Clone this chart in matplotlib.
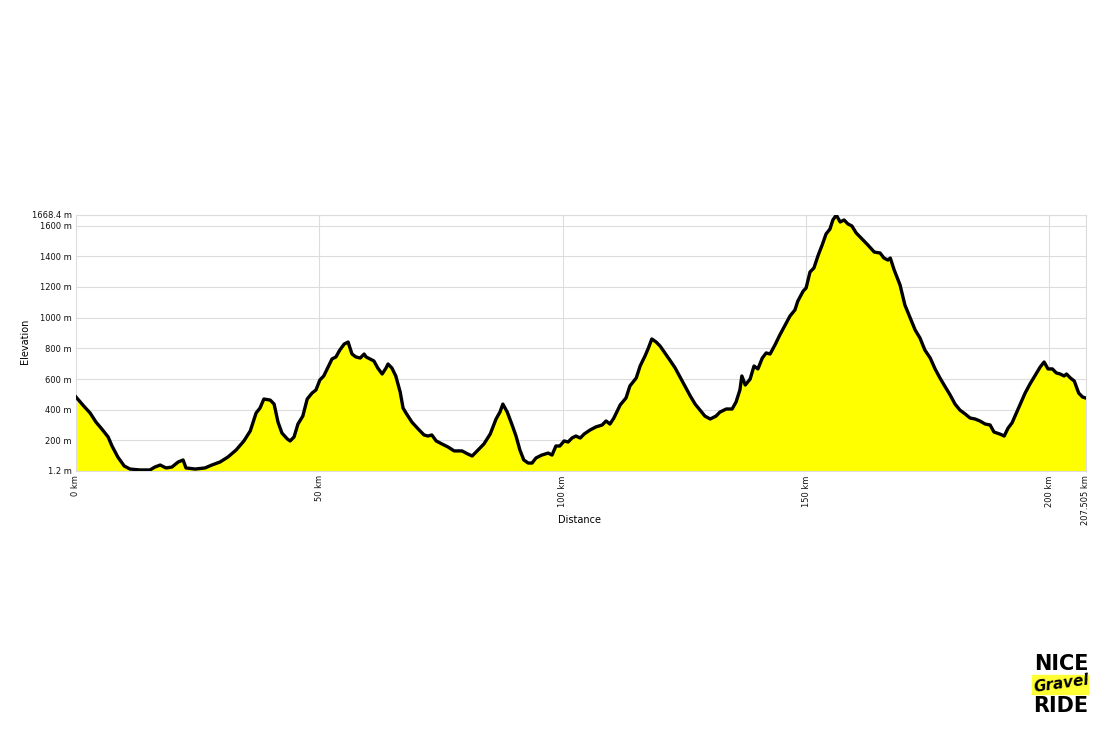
import matplotlib.pyplot as plt

# elevation profile (km, m)
distance_km = [0.0, 1.6, 2.9, 4.1, 5.3, 6.6, 7.4, 8.6, 9.9, 11.1, 13.1, 15.2, 16.2, 17.3, 18.5,
               19.7, 21.0, 22.0, 22.6, 24.5, 26.5, 27.9, 29.6, 31.2, 32.9, 34.5, 35.8, 37.0,
               37.8, 38.6, 39.9, 40.7, 41.5, 42.3, 43.4, 44.0, 44.8, 45.6, 46.6, 47.5, 48.5,
               49.3, 50.1, 50.9, 51.8, 52.6, 53.4, 54.2, 55.1, 55.9, 56.7, 57.5, 58.4, 59.2,
               59.6, 60.4, 61.2, 62.0, 62.9, 63.7, 64.1, 64.9, 65.7, 66.6, 67.2, 67.8, 69.0,
               70.3, 71.5, 72.3, 73.1, 74.0, 75.2, 76.4, 77.7, 79.3, 80.5, 81.4, 82.6, 83.8,
               85.1, 86.3, 87.1, 87.7, 88.6, 89.6, 90.4, 91.2, 92.0, 92.9, 93.7, 94.5, 95.7,
               97.0, 97.8, 98.6, 99.4, 100.3, 101.1, 101.9, 102.7, 103.6, 104.4, 105.6, 106.8,
               108.1, 108.9, 109.7, 110.5, 111.8, 113.0, 113.8, 115.1, 115.9, 116.9, 117.6,
               118.3, 119.2, 120.0, 121.0, 122.0, 123.1, 124.1, 125.1, 126.2, 127.2, 128.2,
               129.2, 130.3, 131.5, 132.3, 133.6, 134.8, 135.6, 136.4, 136.8, 137.5, 138.5,
               139.3, 140.1, 141.0, 141.8, 142.6, 143.6, 144.6, 145.7, 146.7, 147.7, 148.3,
               149.4, 150.0, 150.8, 151.6, 152.5, 153.3, 154.1, 154.9, 155.5, 156.2, 157.0,
               157.8, 158.6, 159.4, 160.3, 161.1, 161.9, 162.7, 164.0, 165.2, 166.0, 166.8,
               167.3, 168.1, 169.3, 170.3, 171.4, 172.4, 173.4, 174.4, 175.5, 176.5, 177.5,
               178.6, 179.6, 180.6, 181.6, 182.7, 183.7, 184.7, 185.7, 186.8, 187.8, 188.6,
               189.8, 190.7, 191.5, 192.3, 193.1, 194.0, 195.0, 196.0, 197.1, 198.1, 198.9,
               199.7, 200.6, 201.4, 202.2, 203.0, 203.5, 204.3, 205.1, 206.0, 206.8, 207.505]
elevation_m = [483, 424, 379, 320, 275, 223, 164, 92, 34, 14, 8, 8, 27, 40, 21,
               27, 60, 73, 21, 14, 21, 40, 60, 92, 138, 197, 262, 379,
               411, 470, 463, 437, 320, 249, 210, 197, 223, 307, 359, 470, 509,
               529, 594, 620, 679, 731, 744, 789, 828, 841, 763, 744, 737, 763,
               744, 731, 718, 672, 633, 672, 698, 672, 620, 516, 411, 379, 320,
               275, 236, 229, 236, 197, 177, 158, 132, 132, 112, 99, 138, 177,
               242, 340, 385, 437, 385, 301, 229, 138, 73, 53, 53, 86, 105,
               118, 105, 164, 164, 197, 190, 216, 229, 216, 242, 268, 288,
               301, 327, 307, 346, 431, 477, 555, 607, 685, 750, 802,
               861, 841, 815, 770, 724, 672, 613, 555, 490, 437, 398,
               359, 340, 359, 385, 405, 405, 450, 529, 620, 561, 600,
               685, 666, 737, 770, 763, 822, 887, 952, 1011, 1050, 1108,
               1173, 1193, 1297, 1323, 1408, 1473, 1545, 1577, 1636, 1668, 1623,
               1636, 1610, 1597, 1551, 1525, 1499, 1473, 1427, 1421, 1388, 1375,
               1388, 1310, 1213, 1082, 998, 920, 867, 789, 737, 666, 607,
               548, 496, 437, 398, 372, 346, 340, 327, 307, 301, 255,
               242, 229, 281, 314, 372, 437, 509, 568, 626, 679, 711,
               666, 666, 640, 633, 620, 633, 607, 587, 509, 483, 476]

y_ticks = [1.2, 200, 400, 600, 800, 1000, 1200, 1400, 1600, 1668.4]
y_labels = ["1.2 m", "200 m", "400 m", "600 m", "800 m", "1000 m", "1200 m", "1400 m", "1600 m", "1668.4 m"]
x_ticks = [0, 50, 100, 150, 200, 207.505]
x_labels = ["0 km", "50 km", "100 km", "150 km", "200 km", "207.505 km"]

fig = plt.figure(figsize=(11.16, 7.37), dpi=100)
ax = fig.add_axes([76 / 1116, 1 - 471 / 737, 1010 / 1116, 256 / 737])

ax.fill_between(distance_km, elevation_m, 1.2, color="#ffff00", lw=0, zorder=2)
ax.plot(distance_km, elevation_m, color="black", lw=2.4, solid_joinstyle="round", zorder=3)

ax.set_xlim(0, 207.505)
ax.set_ylim(1.2, 1668.4)
ax.set_yticks(y_ticks)
ax.set_yticklabels(y_labels)
ax.set_xticks(x_ticks)
ax.set_xticklabels(x_labels, rotation=90)
ax.tick_params(axis="both", length=0, labelsize=6, colors="#111111", pad=3)
ax.grid(True, color="#dddddd", lw=0.8, zorder=1)
for s in ax.spines.values():
    s.set_color("#dddddd")
    s.set_linewidth(0.8)

ax.set_xlabel("Distance", fontsize=7)
ax.set_ylabel("Elevation", fontsize=7)
ax.xaxis.set_label_coords(0.499, -0.172)
ax.yaxis.set_label_coords(-0.0455, 0.508)

# logo in the bottom right corner
fig.text(1061 / 1116, 1 - 664 / 737, "NICE", ha="center", va="center",
         fontsize=15, fontweight="black", family="DejaVu Sans", color="black")
fig.patches.append(plt.Rectangle((1032 / 1116, 1 - 694 / 737), 56 / 1116, 19 / 737,
                                 transform=fig.transFigure, color="#ffff33", zorder=0))
fig.text(1061 / 1116, 1 - 684 / 737, "Gravel", ha="center", va="center", rotation=8,
         fontsize=11, style="italic", fontweight="bold", family="DejaVu Sans", color="black")
fig.text(1061 / 1116, 1 - 706 / 737, "RIDE", ha="center", va="center",
         fontsize=15, fontweight="black", family="DejaVu Sans", color="black")

fig.savefig("out.png", dpi=100)
